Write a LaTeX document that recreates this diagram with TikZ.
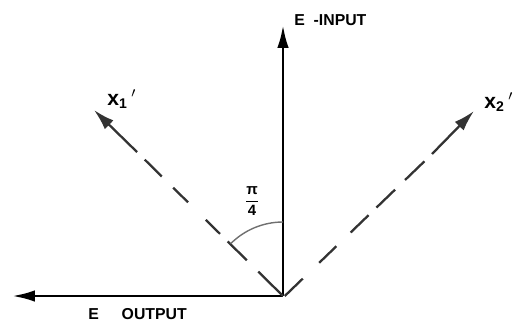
\documentclass[tikz,border=0pt]{standalone}
\usepackage{amsmath}
\usepackage{fontspec}
\setmainfont{Liberation Sans}
\usepackage{tikz}
\usetikzlibrary{arrows.meta}
\definecolor{dashgray}{HTML}{333333}
\definecolor{arcgray}{HTML}{707070}

\tikzset{
  axisline/.style={black, line width=1.6pt, -{Latex[length=13pt,width=6.5pt]}},
  primeline/.style={dashgray, line width=1.3pt, -{Latex[length=12pt,width=7pt]}},
  primedash/.style={dashgray, line width=1.3pt},
  axislabel/.style={font=\bfseries\fontsize{9}{10}\selectfont, inner sep=0pt, anchor=base west},
  primelabel/.style={font=\bfseries\fontsize{12}{14}\selectfont, inner sep=0pt, anchor=base west},
}

\begin{document}
\begin{tikzpicture}[x=0.02cm,y=0.02cm]
    \useasboundingbox (0,0) rectangle (516,322);
    \coordinate (O) at (283,26);
    \coordinate (intip) at (283,297);
    \coordinate (outtip) at (12,26);
    \coordinate (xonebase) at (137,170);
    \coordinate (xonetip) at (94,212);
    \coordinate (xtwobase) at (432,168);
    \coordinate (xtwotip) at (474,211);

    \draw[axisline] (O) -- (intip);
    \draw[axisline] (O) -- (outtip);

    \draw[primedash, dash pattern=on 19.8pt off 9.1pt on 15.3pt off 6.2pt on 11.3pt off 14.2pt on 11.9pt off 9.1pt on 13.6pt off 6.2pt]
        (O) -- (xonebase);
    \draw[primeline] (xonebase) -- (xonetip);
    \draw[primedash, dash pattern=on 14.2pt off 13pt on 13.6pt off 11.3pt on 14.2pt off 6.2pt on 14.7pt off 7.9pt on 15.3pt off 6.2pt]
        ([xshift=1pt]O) -- (xtwobase);
    \draw[primeline] (xtwobase) -- (xtwotip);

    \draw[arcgray, line width=0.8pt] (283,100) arc[start angle=90, end angle=135, radius=74];

    \node[axislabel] (inlbl) at (294,297) {E\hspace{5pt}-INPUT};
    \node[axislabel] (outlbl) at (88,3) {E\hspace{13pt}OUTPUT};
    \node[font=\fontsize{8.5}{10}\selectfont, inner sep=0pt] (anglbl) at (252,121) {$\dfrac{\textbf{π}}{\textbf{4}}$};
    \node[primelabel] (xonelbl) at (107,217) {x\textsubscript{1}\,{\large$'$}};
    \node[primelabel] (xtwolbl) at (484,214) {x\textsubscript{2}\,{\large$'$}};
\end{tikzpicture}
\end{document}
